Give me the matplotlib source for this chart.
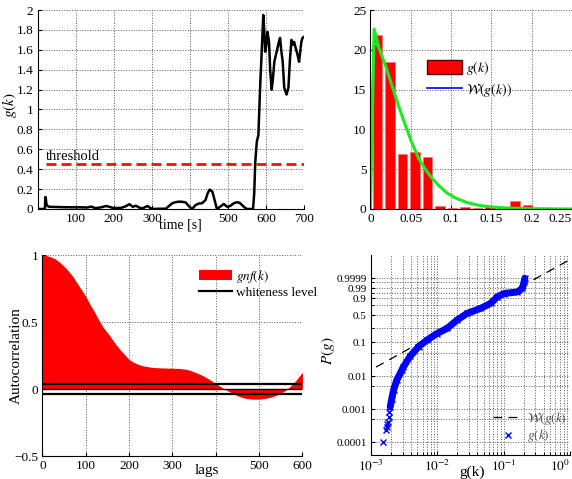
import numpy as np
import matplotlib
matplotlib.use("Agg")
import matplotlib.pyplot as plt
from matplotlib.patches import Patch
from matplotlib.lines import Line2D

plt.rcParams['font.family'] = ['Liberation Serif', 'DejaVu Serif']
plt.rcParams['mathtext.fontset'] = 'stix'
plt.rcParams['font.size'] = 9.5

# --- top left: g(k) over time
time_s = [1, 19, 20, 21, 23, 26, 30, 50, 70, 90, 110, 130, 141, 150, 160, 170, 180, 190,
          200, 210, 220, 230, 241, 250, 258, 268, 276, 283, 289, 296, 302, 315, 337, 345,
          354, 362, 371, 380, 389, 398, 406, 415, 424, 432, 441, 447, 452, 459, 466, 471,
          480, 489, 498, 506, 515, 524, 531, 537, 544, 550, 558, 566, 569, 572, 576, 580,
          585, 589, 593, 596, 598, 601, 604, 608, 611, 615, 618, 622, 628, 634, 637, 640,
          644, 648, 654, 659, 663, 667, 670, 674, 678, 683, 687, 690, 693, 696, 700]
g_k = [0.0, 0.0, 0.12, 0.115, 0.05, 0.03, 0.022, 0.02, 0.018, 0.017, 0.017, 0.015, 0.024,
       0.01, 0.012, 0.02, 0.03, 0.02, 0.008, 0.01, 0.012, 0.025, 0.048, 0.022, 0.033, 0.012,
       0.007, 0.02, 0.03, 0.01, 0.0, 0.002, 0.003, 0.03, 0.058, 0.068, 0.074, 0.072, 0.066,
       0.025, 0.0, 0.04, 0.055, 0.058, 0.09, 0.16, 0.195, 0.175, 0.075, 0.0, 0.024, 0.05,
       0.022, 0.03, 0.057, 0.068, 0.062, 0.04, 0.015, 0.0, 0.0, 0.0, 0.15, 0.48, 0.68, 0.74,
       1.26, 1.6, 1.95, 1.75, 1.58, 1.65, 1.78, 1.68, 1.4, 1.2, 1.3, 1.48, 1.58, 1.68, 1.72,
       1.6, 1.48, 1.22, 1.15, 1.22, 1.5, 1.70, 1.65, 1.68, 1.62, 1.55, 1.48, 1.58, 1.68,
       1.72, 1.73]
threshold = 0.455

# --- top right: histogram of g(k) and Weibull pdf
bin_centers = [0.0088, 0.0243, 0.0398, 0.0553, 0.0708, 0.0863, 0.1018, 0.1173, 0.1328,
               0.1483, 0.1638, 0.1793, 0.1948]
bin_heights = [21.9, 18.5, 6.9, 7.2, 6.5, 0.33, 0.18, 0.2, 0.12, 0.42, 0.0, 0.95, 0.5]
pdf_x = [0.0, 0.0045, 0.011, 0.019, 0.027, 0.035, 0.043, 0.051, 0.060, 0.068, 0.076, 0.085,
         0.095, 0.105, 0.12, 0.135, 0.15, 0.17, 0.19, 0.21, 0.23, 0.26]
pdf_y = [0.0, 22.6, 20.1, 17.9, 15.4, 12.9, 10.6, 8.4, 6.3, 5.0, 3.9, 2.9, 2.0, 1.4, 0.8,
         0.45, 0.25, 0.12, 0.06, 0.03, 0.01, 0.0]
blue_x = [0.0, 0.0035, 0.006, 0.012]
blue_y = [0.0, 20.5, 21.6, 20.0]
peak_x = [0.0035, 0.006, 0.012]
peak_y = [20.5, 20.8, 20.0]

# --- bottom left: autocorrelation
lags = list(range(0, 601, 10))
acf = [1.0, 0.995, 0.985, 0.97, 0.945, 0.915, 0.88, 0.84, 0.79, 0.74, 0.69, 0.63, 0.575,
       0.515, 0.46, 0.42, 0.375, 0.33, 0.29, 0.255, 0.22, 0.2, 0.185, 0.175, 0.168, 0.163,
       0.16, 0.158, 0.157, 0.156, 0.155, 0.154, 0.152, 0.148, 0.14, 0.128, 0.115, 0.1,
       0.082, 0.062, 0.04, 0.02, 0.0, -0.018, -0.035, -0.05, -0.062, -0.07, -0.074, -0.076,
       -0.075, -0.072, -0.066, -0.058, -0.047, -0.032, -0.012, 0.015, 0.045, 0.085, 0.125]
whiteness = 0.037

# --- bottom right: Weibull probability plot
prob_g = [0.00150, 0.00168, 0.00173, 0.00176, 0.00179, 0.00184, 0.0019, 0.00195, 0.00206,
          0.00219, 0.00245, 0.00292, 0.00309, 0.00389, 0.00521, 0.00698, 0.00989, 0.01403,
          0.01995, 0.02818, 0.04467, 0.06353, 0.0804, 0.1012, 0.1614, 0.1919, 0.2032, 0.208]
prob_p = [0.0001, 0.00024, 0.000288, 0.000355, 0.000412, 0.000562, 0.00083, 0.00117,
          0.00209, 0.0038, 0.00756, 0.01503, 0.01887, 0.039, 0.0747, 0.116, 0.177, 0.243,
          0.394, 0.548, 0.674, 0.795, 0.919, 0.958, 0.971, 0.9897, 0.99929, 0.99989]
fit_g = [0.00119, 1.1]
fit_t = [-1.727, 1.576]   # fitted line, already in probability-plot units
p_labels = [0.0001, 0.001, 0.01, 0.1, 0.5, 0.9, 0.99, 0.9999]
p_grid = [0.0005, 0.005, 0.05, 0.25, 0.75, 0.96, 0.999]


def wbl(p):
    return np.log10(-np.log1p(-np.asarray(p, dtype=float)))


def style(ax):
    for s in ['top', 'right']:
        ax.spines[s].set_visible(False)
    ax.tick_params(direction='in', length=3, width=0.8, colors='black', pad=3)
    ax.set_axisbelow(True)


GRID = dict(color='0.35', linestyle=':', linewidth=0.7)

fig = plt.figure(figsize=(5.72, 4.79), dpi=100)

# top left
ax1 = fig.add_axes([0.0659, 0.5637, 0.4656, 0.4154])
style(ax1)
ax1.plot(time_s, g_k, color='black', lw=1.8)
ax1.plot([22, 700], [threshold, threshold], color='#ee1111', lw=2, dashes=(3.6, 1.8))
ax1.text(22, 0.49, 'threshold', fontsize=10.5)
ax1.set_xlim(0, 700)
ax1.set_ylim(0, 2)
ax1.set_xticks(range(100, 701, 100))
ax1.set_xticklabels(['100', '200', '300', '', '500', '600', '700'])
ax1.set_yticks(np.arange(0, 2.01, 0.2))
ax1.set_yticklabels(['0', '0.2', '0.4', '0.6', '0.8', '1', '1.2', '1.4', '1.6', '1.8', '2'])
ax1.grid(True, **GRID)
ax1.set_xlabel('time [s]', fontsize=10)
ax1.xaxis.set_label_coords(0.534, -0.05)
ax1.set_ylabel('$g(k)$', fontsize=11)
ax1.yaxis.set_label_coords(-0.07, 0.52)

# top right
ax2 = fig.add_axes([0.6477, 0.5637, 0.3523, 0.4154])
style(ax2)
ax2.bar(bin_centers, bin_heights, width=0.0115, color='red', edgecolor='#ff7070', lw=0.5)
ax2.plot(blue_x, blue_y, color='blue', lw=1.2)
ax2.plot(pdf_x, pdf_y, color='#1ee81e', lw=2.2)
ax2.plot(peak_x, peak_y, color='#1ee81e', lw=1.5)
ax2.set_xlim(0, 0.25)
ax2.set_ylim(0, 25)
ax2.set_xticks([0, 0.05, 0.1, 0.15, 0.2, 0.25])
ax2.set_xticklabels(['0', '0.05', '0.1', '0.15', '0.2', '0.25'])
ax2.get_xticklabels()[-1].set_horizontalalignment('right')
ax2.set_yticks(range(0, 26, 5))
ax2.grid(True, **GRID)
ax2.legend(handles=[Patch(facecolor='red', edgecolor='#550000', lw=1),
                    Line2D([], [], color='blue', lw=1.2)],
           labels=['$g(k)$', r'$\mathcal{W}(g(k))$'],
           loc='upper left', bbox_to_anchor=(0.245, 0.79), frameon=False,
           handlelength=2.5, handleheight=1.2, handletextpad=0.3, borderpad=0,
           labelspacing=0.3, fontsize=10)

# bottom left
ax3 = fig.add_axes([0.0743, 0.0480, 0.4545, 0.4196])
style(ax3)
ax3.fill_between(lags, acf, 0, color='red', lw=0)
ax3.axhline(0, color='black', lw=1)
ax3.plot([0, 600], [whiteness, whiteness], color='black', lw=1.6)
ax3.plot([0, 600], [-whiteness, -whiteness], color='black', lw=1.6)
ax3.set_xlim(0, 600)
ax3.set_ylim(-0.5, 1)
ax3.set_xticks(range(0, 601, 100))
ax3.set_xticklabels(['0', '100', '200', '300', '', '500', '600'])
ax3.set_yticks([-0.5, 0, 0.5, 1])
ax3.set_yticklabels(['\u22120.5', '0', '0.5', '1'])
ax3.grid(True, **GRID)
ax3.set_xlabel('lags', fontsize=11)
ax3.xaxis.set_label_coords(0.633, -0.04)
ax3.set_ylabel('Autocorrelation', fontsize=11)
ax3.yaxis.set_label_coords(-0.075, 0.5)
ax3.legend(handles=[Patch(facecolor='red', edgecolor='none'),
                    Line2D([], [], color='black', lw=1.6)],
           labels=['$gnf(k)$', 'whiteness level'],
           loc='upper left', bbox_to_anchor=(0.575, 0.97), frameon=False,
           handlelength=2.5, handleheight=0.8, handletextpad=0.3, borderpad=0,
           labelspacing=0.15, fontsize=9.5)

# bottom right
ax4 = fig.add_axes([0.6486, 0.0501, 0.3479, 0.4175])
style(ax4)
ax4.set_xscale('log')
ax4.plot(fit_g, fit_t, color='black', lw=0.9, dashes=(7, 5))
ax4.plot(prob_g[7:], wbl(prob_p[7:]), color='blue', lw=5, solid_capstyle='round')
ax4.plot(prob_g, wbl(prob_p), 'x', color='blue', ms=5, mew=1)
ax4.set_xlim(1e-3, 1)
ax4.set_ylim(-4.39, 1.667)
ax4.set_yticks(wbl(p_labels))
ax4.set_yticklabels(['0.0001', '0.001', '0.01', '0.1', '0.5', '0.9', '0.99', '0.9999'],
                    fontsize=8)
ax4.set_yticks(wbl(p_grid), minor=True)
ax4.set_xticks([1e-3, 1e-2, 1e-1, 1])
ax4.set_xticklabels(['$10^{-3}$', '$10^{-2}$', '$10^{-1}$', '$10^{0}$'])
ax4.get_xticklabels()[-1].set_horizontalalignment('right')
ax4.tick_params(which='minor', direction='in', length=2)
ax4.grid(True, which='both', **GRID)
ax4.set_xlabel('g(k)', fontsize=11)
ax4.xaxis.set_label_coords(0.51, -0.055)
ax4.set_ylabel('$P(g)$', fontsize=11)
ax4.yaxis.set_label_coords(-0.17, 0.52)
leg4 = ax4.legend(handles=[Line2D([], [], color='black', lw=0.9, dashes=(7, 5)),
                           Line2D([], [], color='blue', marker='x', ls='none', ms=5)],
                  labels=[r'$\mathcal{W}(g(k)$', '$g(k)$'],
                  loc='lower left', bbox_to_anchor=(0.58, 0.02), frameon=False,
                  handlelength=2.3, handletextpad=0.3, borderpad=0,
                  labelspacing=0.05, fontsize=9.5)
for t in leg4.get_texts():
    t.set_color('0.3')

fig.savefig('out.png', dpi=100)
